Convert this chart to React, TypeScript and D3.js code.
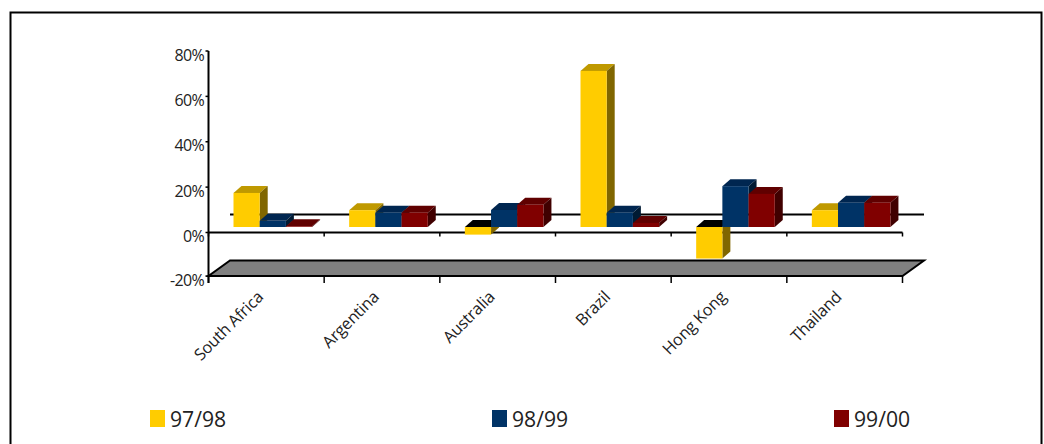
import React from "react";
import * as d3 from "d3";

const categories = ["South Africa", "Argentina", "Australia", "Brazil", "Hong Kong", "Thailand"];
const seriesNames = ["97/98", "98/99", "99/00"];
const values9798 = [15, 7.4, -3.5, 68.8, -14.5, 7.4];
const values9899 = [2.7, 6.3, 7.5, 6.3, 18, 10.7];
const values9900 = [0.3, 6.3, 9.8, 1.8, 14.6, 10.7];
const yTicks = [80, 60, 40, 20, 0, -20];

const frontColors = ["#FFCC00", "#003366", "#800000"];
const topColors = ["#BF9900", "#002650", "#600000"];
const sideColors = ["#806600", "#001A33", "#400000"];
const font = "'Open Sans', sans-serif";

const x = d3.scaleBand<string>().domain(categories).range([208.5, 902.5]);
const y = d3.scaleLinear().domain([-20, 0, 80]).range([276, 232.5, 51]);

const BAR_W = 26.2;
const BAR_OFFSET = 25;
const LIFT = 5.5;
const DEPTH_X = 8;
const DEPTH_Y = 7;
const FLOOR_DX = 21.5;
const FLOOR_DY = 15.5;

const poly = (pts: [number, number][]) => pts.map((p) => p.join(",")).join(" ");

function Bar({ cat, index, value }: { cat: string; index: number; value: number }) {
  const x0 = (x(cat) as number) + BAR_OFFSET + index * BAR_W;
  const x1 = x0 + BAR_W;
  const base = y(0) - LIFT;
  const end = y(value) - LIFT;
  const top = Math.min(base, end);
  const bottom = Math.max(base, end);
  return (
    <g>
      <polygon
        points={poly([[x0, top], [x1, top], [x1 + DEPTH_X, top - DEPTH_Y], [x0 + DEPTH_X, top - DEPTH_Y]])}
        fill={value < 0 ? "#000000" : topColors[index]}
      />
      <polygon
        points={poly([[x1, top], [x1 + DEPTH_X, top - DEPTH_Y], [x1 + DEPTH_X, bottom - DEPTH_Y], [x1, bottom]])}
        fill={sideColors[index]}
      />
      <rect x={x0} y={top} width={BAR_W} height={bottom - top} fill={frontColors[index]} />
    </g>
  );
}

export default function App() {
  const series = [values9798, values9899, values9900];
  const legendX = [150, 492, 834];
  const floorY = y(-20);
  const left = x.range()[0];
  const right = x.range()[1];
  const step = x.step();
  const tickXs = d3.range(categories.length + 1).map((i) => left + i * step);

  return (
    <svg
      width={1044}
      height={444}
      style={{ position: "absolute", left: 0, top: 0, background: "#fff" }}
      fontFamily={font}
    >
      {/* outer frame, open past the bottom edge */}
      <rect x={10.5} y={12.5} width={1031} height={460} fill="none" stroke="#000" strokeWidth={2} />

      {/* floor of the 3D plot */}
      <polygon
        points={poly([
          [left, floorY],
          [right, floorY],
          [right + FLOOR_DX, floorY - FLOOR_DY],
          [left + FLOOR_DX, floorY - FLOOR_DY],
        ])}
        fill="#808080"
        stroke="#000"
        strokeWidth={2}
      />

      {/* zero line on the back wall */}
      <line
        x1={left + FLOOR_DX}
        x2={right + FLOOR_DX}
        y1={y(0) - 18}
        y2={y(0) - 18}
        stroke="#000"
        strokeWidth={2}
      />

      {/* front zero line */}
      <line x1={left} x2={right} y1={y(0)} y2={y(0)} stroke="#000" strokeWidth={2} />

      {/* value axis */}
      <line x1={left} x2={left} y1={y(80)} y2={floorY + 7} stroke="#000" strokeWidth={2} />
      {yTicks.map((t) => (
        <g key={t}>
          <line x1={left - 3} x2={left} y1={y(t)} y2={y(t)} stroke="#000" strokeWidth={1.5} />
          <text
            x={204}
            y={y(t) + 9.5}
            textAnchor="end"
            fontSize={16}
            letterSpacing={-0.7}
            fill="#222"
          >
            {t}%
          </text>
        </g>
      ))}

      {/* category ticks on the zero line and on the floor edge */}
      {tickXs.map((tx) => (
        <g key={tx}>
          <line x1={tx} x2={tx} y1={y(0)} y2={y(0) + 4} stroke="#000" strokeWidth={1.5} />
          <line x1={tx} x2={tx} y1={floorY} y2={floorY + 7} stroke="#000" strokeWidth={1.5} />
        </g>
      ))}

      {/* bars */}
      {categories.map((c, i) => (
        <g key={c}>
          {series.map((vals, s) => (
            <Bar key={s} cat={c} index={s} value={vals[i]} />
          ))}
        </g>
      ))}

      {/* category labels */}
      {categories.map((c) => {
        const lx = (x(c) as number) + step / 2 - 2;
        return (
          <text
            key={c}
            transform={`translate(${lx},298) rotate(-45)`}
            textAnchor="end"
            fontSize={16.3}
            letterSpacing={-0.2}
            fill="#222"
          >
            {c}
          </text>
        );
      })}

      {/* legend */}
      {seriesNames.map((name, i) => (
        <g key={name}>
          <rect x={legendX[i]} y={410} width={15} height={17} fill={frontColors[i]} />
          <text x={legendX[i] + 20} y={427} fontSize={21.2} fill="#222">
            {name}
          </text>
        </g>
      ))}
    </svg>
  );
}
